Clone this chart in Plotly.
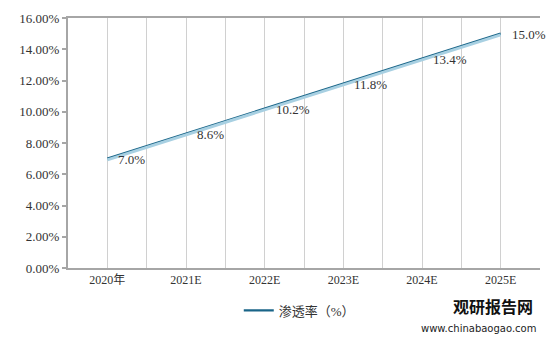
import plotly.graph_objects as go

categories = ["2020年", "2021E", "2022E", "2023E", "2024E", "2025E"]
penetration = [7.0, 8.6, 10.2, 11.8, 13.4, 15.0]
value_labels = ["7.0%", "8.6%", "10.2%", "11.8%", "13.4%", "15.0%"]
y_ticks = [0, 2, 4, 6, 8, 10, 12, 14, 16]
y_tick_labels = ["0.00%", "2.00%", "4.00%", "6.00%", "8.00%", "10.00%", "12.00%", "14.00%", "16.00%"]
series_name = "渗透率（%）"

xs = list(range(len(categories)))
serif = "Liberation Serif, Noto Sans CJK SC, serif"

fig = go.Figure()
# soft shadow under the line
fig.add_trace(go.Scatter(x=xs, y=penetration, mode="lines",
                         line=dict(color="#a8d0e2", width=3),
                         yaxis="y2", showlegend=False, hoverinfo="skip"))
fig.add_trace(go.Scatter(x=xs, y=penetration, mode="lines", name=series_name,
                         line=dict(color="#1a6588", width=2.2)))

for x, y, t in zip(xs, penetration, value_labels):
    fig.add_annotation(x=x, y=y, text=t, showarrow=False, xanchor="left",
                       yanchor="middle", xshift=9, yshift=-1,
                       font=dict(family=serif, size=13, color="#333333"))

fig.add_annotation(x=0.99, y=-0.152, xref="paper", yref="paper", text="<b>观研报告网</b>",
                   showarrow=False, xanchor="right", yanchor="middle",
                   font=dict(family="Noto Sans CJK SC", size=16, color="#111111"))
fig.add_annotation(x=0.995, y=-0.24, xref="paper", yref="paper", text="www.chinabaogao.com",
                   showarrow=False, xanchor="right", yanchor="middle",
                   font=dict(family="DejaVu Sans", size=10, color="#222222"))

fig.update_layout(
    width=559, height=340,
    margin=dict(l=68, r=19, t=11, b=72),
    paper_bgcolor="white", plot_bgcolor="white",
    showlegend=True,
    legend=dict(orientation="h", x=0.49, xanchor="center", y=-0.11, yanchor="top",
                font=dict(family=serif, size=13, color="#333333")),
    xaxis=dict(range=[-0.5, 5.5], tickvals=xs, ticktext=categories,
               showgrid=True, gridcolor="#d0d0d0", gridwidth=1.2,
               minor=dict(dtick=0.5, tick0=-0.5, showgrid=True, gridcolor="#d0d0d0", gridwidth=1.2),
               showline=True, linecolor="#a6a6a6", linewidth=1.5, mirror=True,
               ticks="", zeroline=False,
               tickfont=dict(family=serif, size=12, color="#333333")),
    yaxis=dict(range=[0, 16], tickvals=y_ticks, ticktext=y_tick_labels,
               showgrid=False, zeroline=False,
               showline=True, linecolor="#a6a6a6", linewidth=2,
               ticks="outside", ticklen=4, tickcolor="#a6a6a6", tickwidth=1.5,
               tickfont=dict(family=serif, size=13, color="#333333")),
    yaxis2=dict(range=[0.08, 16.08], overlaying="y", visible=False),
)

fig.write_html("out.html")
